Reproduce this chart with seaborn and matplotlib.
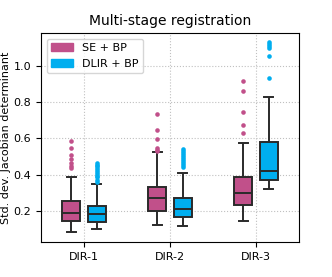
import numpy as np
import pandas as pd
import matplotlib
matplotlib.use('Agg')
import matplotlib.pyplot as plt
from matplotlib.patches import Patch
import seaborn as sns

# Data (box summaries + outliers)
categories = ["DIR-1", "DIR-2", "DIR-3"]
methods = ["SE + BP", "DLIR + BP"]
colors = ["#C1508A", "#00AEEF"]

se_whislo = [0.081, 0.123, 0.143]
se_q1 = [0.143, 0.198, 0.235]
se_med = [0.191, 0.270, 0.297]
se_q3 = [0.255, 0.332, 0.385]
se_whishi = [0.387, 0.524, 0.575]

dlir_whislo = [0.101, 0.116, 0.321]
dlir_q1 = [0.140, 0.167, 0.369]
dlir_med = [0.184, 0.211, 0.422]
dlir_q3 = [0.228, 0.273, 0.579]
dlir_whishi = [0.350, 0.411, 0.826]

se_outliers = [
    [0.588, 0.548, 0.511, 0.488, 0.466, 0.446, 0.435],
    [0.735, 0.647, 0.598, 0.548, 0.537, 0.530],
    [0.914, 0.863, 0.744, 0.672, 0.631],
]
dlir_outliers = [
    [0.466, 0.455, 0.445, 0.435, 0.425, 0.415, 0.405, 0.395, 0.385, 0.372, 0.362],
    [0.539, 0.528, 0.517, 0.506, 0.495, 0.484, 0.473, 0.462, 0.452, 0.442],
    [1.129, 1.120, 1.110, 1.101, 1.052, 0.935],
]

# long-form table: five numbers per box (whis=inf -> whiskers at min/max)
rows = []
summaries = {
    "SE + BP": (se_whislo, se_q1, se_med, se_q3, se_whishi),
    "DLIR + BP": (dlir_whislo, dlir_q1, dlir_med, dlir_q3, dlir_whishi),
}
for m, stats in summaries.items():
    for i, c in enumerate(categories):
        for s in stats:
            rows.append({"dir": c, "method": m, "value": s[i]})
df = pd.DataFrame(rows)

box_width = 0.6
gap = 0.3

fig, ax = plt.subplots(figsize=(3.32, 2.77), dpi=100)
fig.subplots_adjust(left=0.1235, right=0.9006, top=0.881, bottom=0.1264)

sns.boxplot(data=df, x="dir", y="value", hue="method", order=categories,
            hue_order=methods, palette=colors, saturation=1, width=box_width,
            gap=gap, whis=np.inf, linecolor="#2a2a2a", linewidth=1.4,
            legend=False, ax=ax)

# outliers, placed at the dodged box centres
slot = box_width / len(methods)
for j, (outs, col) in enumerate(zip([se_outliers, dlir_outliers], colors)):
    off = -box_width / 2 + slot * (j + 0.5)
    for i, vals in enumerate(outs):
        ax.plot(np.full(len(vals), i + off), vals, 'o', color=col,
                markersize=3.3, markeredgewidth=0, zorder=3)

ax.grid(True, linestyle=':', color='#c0c0c0', linewidth=0.8)
ax.set_axisbelow(True)
ax.set_xlabel("")
ax.set_ylabel("Std. dev. Jacobian determinant", fontsize=8)
ax.yaxis.set_label_coords(-0.118, 0.5)
ax.set_title("Multi-stage registration", fontsize=10)
ax.tick_params(labelsize=8)
ax.set_xlim(-0.5, 2.5)

handles = [Patch(facecolor=c, edgecolor=c, label=m) for m, c in zip(methods, colors)]
ax.legend(handles=handles, loc="upper left", fontsize=8)

plt.savefig("out.png", dpi=100)
plt.close()
